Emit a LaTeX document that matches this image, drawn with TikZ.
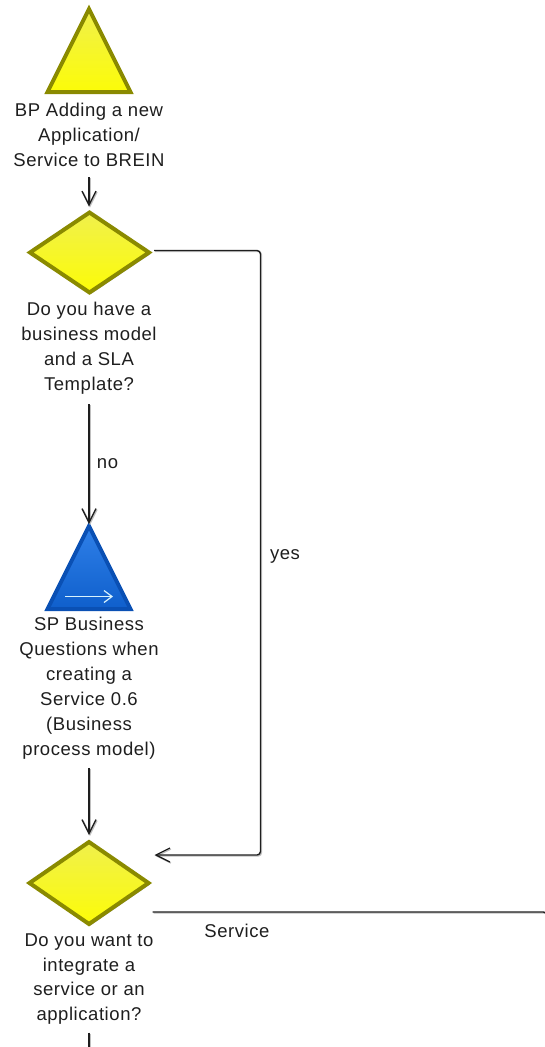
\documentclass[tikz,border=0pt]{standalone}
\usepackage{fontspec}
\setmainfont{Liberation Sans}[LetterSpace=3]
\usetikzlibrary{shapes.geometric,arrows.meta,shadows,calc}
\definecolor{ink}{HTML}{1E1E1E}
\definecolor{olive}{HTML}{8A8A00}
\definecolor{navy}{HTML}{0A50B4}
\definecolor{ylight}{HTML}{F0F04C}
\definecolor{ydeep}{HTML}{FCFC08}
\definecolor{bluelight}{HTML}{2F80E8}
\definecolor{bluedeep}{HTML}{0F5FCC}
\tikzset{
  lab/.style={inner sep=0pt,outer sep=0pt,align=center,text=ink,font=\fontsize{18.5}{24.9}\selectfont},
  soft/.style={drop shadow={shadow xshift=1.5pt,shadow yshift=-1.5pt,opacity=.35,fill=black}},
  dec/.style={diamond,draw=olive,line width=4pt,line join=miter,top color=ylight,bottom color=ydeep,
    aspect=1.45,minimum width=119pt,minimum height=80pt,inner sep=0pt,outer sep=0pt,soft},
  tri/.style={isosceles triangle,isosceles triangle stretches,shape border rotate=90,anchor=apex,line width=4pt,line join=miter,
    minimum width=83pt,minimum height=83pt,inner sep=0pt,outer sep=0pt},
  ytri/.style={tri,draw=olive,top color=ylight,bottom color=ydeep},
  btri/.style={tri,draw=navy,top color=bluelight,bottom color=bluedeep},
  conn/.style={draw=ink,line width=1.4pt,rounded corners=3.5pt,
    preaction={draw=black!25,line width=1.4pt,transform canvas={shift={(1pt,-1pt)}}},
    -{Straight Barb[length=14pt,width=14pt,line width=1.3pt]}},
  plain/.style={draw=ink,line width=1.4pt,rounded corners=3.5pt,
    preaction={draw=black!25,line width=1.4pt,transform canvas={shift={(1pt,-1pt)}}}}
}
\begin{document}
\begin{tikzpicture}[x=1pt,y=-1pt]
\useasboundingbox (0,0) rectangle (545,1047);
\clip (0,0) rectangle (545,1047);
\node[ytri] (bp) at (89,9) {};
\node[lab] (t1) at (89,134.5) {BP Adding a new\\Application/\\Service to BREIN};
\node[dec] (d1) at (89.5,252.5) {};
\node[lab] (t2) at (89,348.5) {Do you have a\\business model\\and a SLA\\Template?};
\node[btri] (sp) at (89,526) {};
\coordinate (wa) at (65,596.5);
\coordinate (wb) at (113,596.5);
\node[lab] (t3) at (89,688) {SP Business\\Questions when\\creating a\\Service 0.6\\(Business\\process model)};
\node[dec,minimum height=82pt] (d3) at (89,883) {};
\node[lab] (t4) at (89,979) {Do you want to\\integrate a\\service or an\\application?};
\node[lab] (no) at (107.5,464) {no};
\node[lab] (yes) at (285,556) {yes};
\node[lab] (svc) at (237,931) {Service};
\coordinate (c1) at (260.5,250.5);
\coordinate (c2) at (260.5,855);
\coordinate (e1) at (547,912);
\coordinate (e2) at (547,935);
\coordinate (e3) at (89,1050);
\draw[conn,shorten <=11pt,shorten >=6pt] (t1.south) -- (t1.south |- d1.north);
\draw[conn,shorten <=2pt,shorten >=1pt] ($(d1.east)+(3,-2)$) -- (c1) -- (c2) -- ($(d3.east)+(5,-28)$);
\draw[conn,shorten <=10pt,shorten >=2pt] (t2.south) -- (sp.apex);
\draw[conn,shorten <=9pt,shorten >=7pt] (t3.south) -- (d3.north);
\draw[plain] ($(d3.east)+(4,29)$) -- (e1) -- (e2);
\draw[plain,shorten <=8pt] (t4.south) -- (e3);
\draw[white!85!cyan,line width=1.4pt,-{Straight Barb[length=8pt,width=12pt,line width=1.2pt]}] (wa) -- (wb);
\end{tikzpicture}
\end{document}
